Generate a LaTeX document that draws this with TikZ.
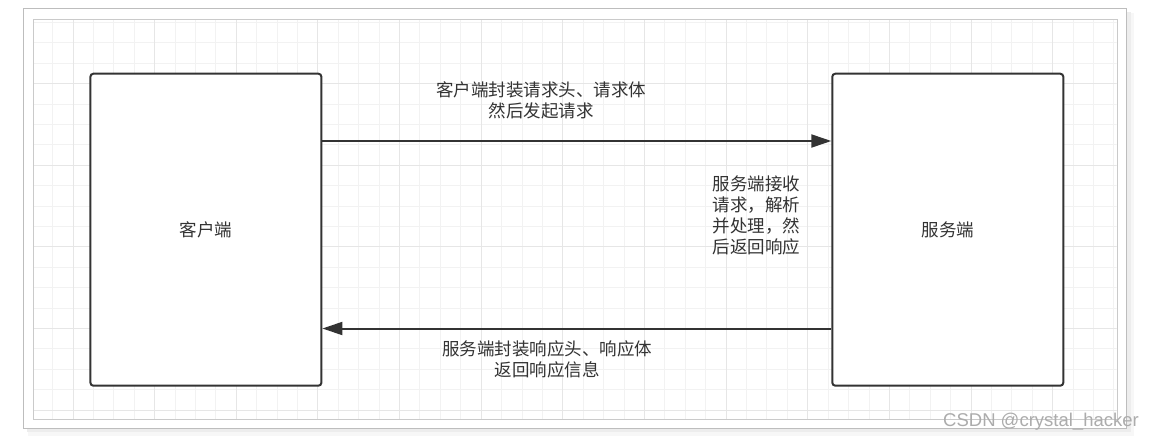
\documentclass[tikz,border=0pt]{standalone}
\usepackage{fontspec}
\setsansfont{Liberation Sans}
\newfontfamily\cjk{Noto Sans CJK SC}
\usetikzlibrary{arrows.meta, positioning, calc}

\definecolor{ink}{HTML}{333333}
\definecolor{gridminor}{HTML}{F2F2F2}
\definecolor{gridmajor}{HTML}{E6E6E6}
\definecolor{framegray}{HTML}{BDBDBD}

\begin{document}
\begin{tikzpicture}[x=1pt, y=-1pt, >={Triangle[length=20pt, width=13pt]},
	box/.style={draw=ink, line width=2pt, fill=white, rounded corners=3pt,
		minimum width=231pt, minimum height=312pt, text=ink,
		font=\cjk\fontsize{17.5}{21}\selectfont},
	flow/.style={->, draw=ink, line width=2pt},
	note/.style={text=ink, align=center, inner sep=0pt,
		font=\cjk\fontsize{17.5}{21}\selectfont}]
		\useasboundingbox (0,0) rectangle (1155,442);
		
		% page frame with its shadow
		\fill[gray!6] (28,13) rectangle (1134,436);
		\fill[gray!14] (27,12) rectangle (1131,432);
		\filldraw[fill=white, draw=framegray] (23.5,8.5) rectangle (1126,428);
		
		% grid
		\begin{scope}
			\clip (33.5,19) rectangle (1116.7,419);
			\foreach \i in {0,...,52}
				\draw[gridminor] ({52.3+\i*20.41},19) -- ++(0,400);
			\foreach \j in {-3,...,16}
				\draw[gridminor] (33.5,{83.3+\j*20.41}) -- ++(1084,0);
			\foreach \i in {0,...,13}
				\draw[gridmajor] ({72.7+\i*81.65},19) -- ++(0,400);
			\foreach \j in {-1,...,4}
				\draw[gridmajor] (33.5,{83.3+\j*81.65}) -- ++(1084,0);
		\end{scope}
		\draw[framegray!80] (33.5,19) rectangle (1116.7,419);
		
		\node[box] (client) at (205.9,229.7) {客户端};
		\node[box] (server) at (947.8,229.7) {服务端};
		
		\draw[flow] ([yshift=88.7pt]client.east) -- node[note, pos=0.43, yshift=40.7pt] (request) {客户端封装请求头、请求体\\然后发起请求} ([yshift=88.7pt]server.west);
		\draw[flow] ([yshift=-98.8pt]server.west) -- node[note, pos=0.558, yshift=-30.7pt] (response) {服务端封装响应头、响应体\\返回响应信息} ([yshift=-98.8pt]client.east);
		
		\node[note] (handle) at ([xshift=-75pt, yshift=13.9pt]server.west) {服务端接收\\请求，解析\\并处理，然\\后返回响应};
		
		\node[font=\sffamily\fontsize{18.5}{20}\selectfont, text=gray!65, anchor=east, inner sep=0pt] (mark) at (1139,421.7) {CSDN @crystal\_hacker};
	\end{tikzpicture}
\end{document}
